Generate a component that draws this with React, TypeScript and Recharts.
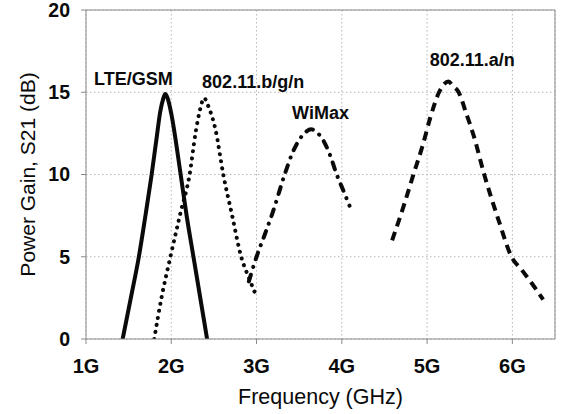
import {
  CartesianGrid,
  Label,
  Line,
  LineChart,
  ReferenceDot,
  ReferenceLine,
  XAxis,
  YAxis,
} from "recharts";

const FONT = "Arial, 'Liberation Sans', Helvetica, sans-serif";

// LTE/GSM band (solid)
const lteFreq = [1.43, 1.53, 1.62, 1.7, 1.77, 1.83, 1.87, 1.905, 1.93, 1.96, 2.0, 2.11, 2.18, 2.26, 2.34, 2.42];
const lteGain = [0, 2.6, 5, 7.6, 10, 12.3, 13.8, 14.6, 14.9, 14.6, 13.7, 10, 7.5, 5, 2.5, 0];

// 802.11.b/g/n band (dotted)
const bgnFreq = [1.8, 1.885, 1.99, 2.105, 2.215, 2.29, 2.34, 2.385, 2.43, 2.52, 2.61, 2.71, 2.82, 2.92, 2.99];
const bgnGain = [0, 2.5, 5, 7.6, 10, 12.7, 14.0, 14.65, 14.2, 12.7, 10, 7.6, 5, 3.6, 2.7];

// WiMax band (dash-dot)
const wimaxFreq = [2.91, 3.0, 3.1, 3.19, 3.33, 3.42, 3.5, 3.58, 3.64, 3.71, 3.78, 3.86, 3.94, 4.02, 4.09];
const wimaxGain = [3.5, 5, 6.4, 7.7, 10, 11.3, 12.1, 12.6, 12.75, 12.55, 12.1, 11.2, 10, 9.0, 8.1];

// 802.11.a/n band (dashed)
const anFreq = [4.59, 4.72, 4.84, 4.95, 5.04, 5.14, 5.2, 5.25, 5.3, 5.37, 5.46, 5.55, 5.67, 5.84, 5.99, 6.11, 6.24, 6.36];
const anGain = [6.0, 8.0, 10, 11.8, 13.5, 15.0, 15.5, 15.65, 15.4, 15.0, 13.7, 12.3, 10, 7.2, 5.0, 4.2, 3.3, 2.4];

const freqTicks = [1, 2, 3, 4, 5, 6];
const gainTicks = [0, 5, 10, 15, 20];

// band name tags, anchored in (GHz, dB)
const bandNames = ["LTE/GSM", "802.11.b/g/n", "WiMax", "802.11.a/n"];
const nameFreq = [1.556, 2.96, 3.75, 5.53];
const nameGain = [15.84, 15.65, 13.77, 16.96];

const toPoints = (f: number[], g: number[]) =>
  f.map((x, i) => ({ f: x, gain: g[i] }));

const AXIS = "#8a8a8a";
const INK = "#0a0a0a";

type Box = { x: number; y: number; width: number; height: number };

function YTitle({ viewBox }: { viewBox?: Box }) {
  if (!viewBox) return null;
  const cx = viewBox.x + 27;
  const cy = viewBox.y + viewBox.height / 2;
  return (
    <text
      x={cx}
      y={cy}
      transform={`rotate(-90, ${cx}, ${cy})`}
      textAnchor="middle"
      dominantBaseline="central"
      fontSize={21}
      fontFamily={FONT}
      fill={INK}
    >
      Power Gain, S21 (dB)
    </text>
  );
}

function XTitle({ viewBox }: { viewBox?: Box }) {
  if (!viewBox) return null;
  return (
    <text
      x={viewBox.x + viewBox.width / 2}
      y={viewBox.y + 65}
      textAnchor="middle"
      fontSize={21.5}
      fontFamily={FONT}
      fill={INK}
    >
      Frequency (GHz)
    </text>
  );
}

export default function App() {
  const lines = [
    { pts: toPoints(lteFreq, lteGain), dash: undefined, cap: "round" as const },
    { pts: toPoints(bgnFreq, bgnGain), dash: "0.1 7", cap: "round" as const },
    { pts: toPoints(wimaxFreq, wimaxGain), dash: "7 8 0.1 8", cap: "round" as const },
    { pts: toPoints(anFreq, anGain), dash: "9 6", cap: "butt" as const },
  ];

  return (
    <div
      style={{
        position: "fixed",
        left: 0,
        top: 0,
        width: 561,
        height: 414,
        background: "#fff",
      }}
    >
      <LineChart width={561} height={414} margin={{ top: 10, right: 6, bottom: 0, left: 0 }}>
        <CartesianGrid stroke="#b4b4b4" strokeDasharray="1.5 2.5" />
        <XAxis
          type="number"
          dataKey="f"
          domain={[1, 6.5]}
          ticks={freqTicks}
          interval={0}
          allowDataOverflow
          height={75}
          stroke={AXIS}
          tickSize={5}
          tickMargin={15}
          tickFormatter={(v: number) => `${v}G`}
          tick={{ fontSize: 20, fontWeight: 700, fill: INK, fontFamily: FONT }}
        >
          <Label content={<XTitle />} />
        </XAxis>
        <YAxis
          type="number"
          domain={[0, 20]}
          ticks={gainTicks}
          interval={0}
          allowDataOverflow
          width={86}
          stroke={AXIS}
          tickSize={5}
          tickMargin={11}
          tick={{ fontSize: 19.5, fontWeight: 700, fill: INK, fontFamily: FONT }}
        >
          <Label content={<YTitle />} />
        </YAxis>
        <ReferenceLine y={20} stroke={AXIS} />
        <ReferenceLine x={6.5} stroke={AXIS} />
        {lines.map((l, i) => (
          <Line
            key={bandNames[i]}
            data={l.pts}
            dataKey="gain"
            type="monotone"
            stroke={INK}
            strokeWidth={4}
            strokeDasharray={l.dash}
            strokeLinecap={l.cap}
            dot={false}
            activeDot={false}
            isAnimationActive={false}
          />
        ))}
        {bandNames.map((name, i) => (
          <ReferenceDot
            key={name}
            x={nameFreq[i]}
            y={nameGain[i]}
            r={0}
            fill="none"
            stroke="none"
            label={{
              value: name,
              position: "center",
              fontSize: 18,
              fontWeight: 700,
              fill: INK,
              fontFamily: FONT,
            }}
          />
        ))}
      </LineChart>
    </div>
  );
}
